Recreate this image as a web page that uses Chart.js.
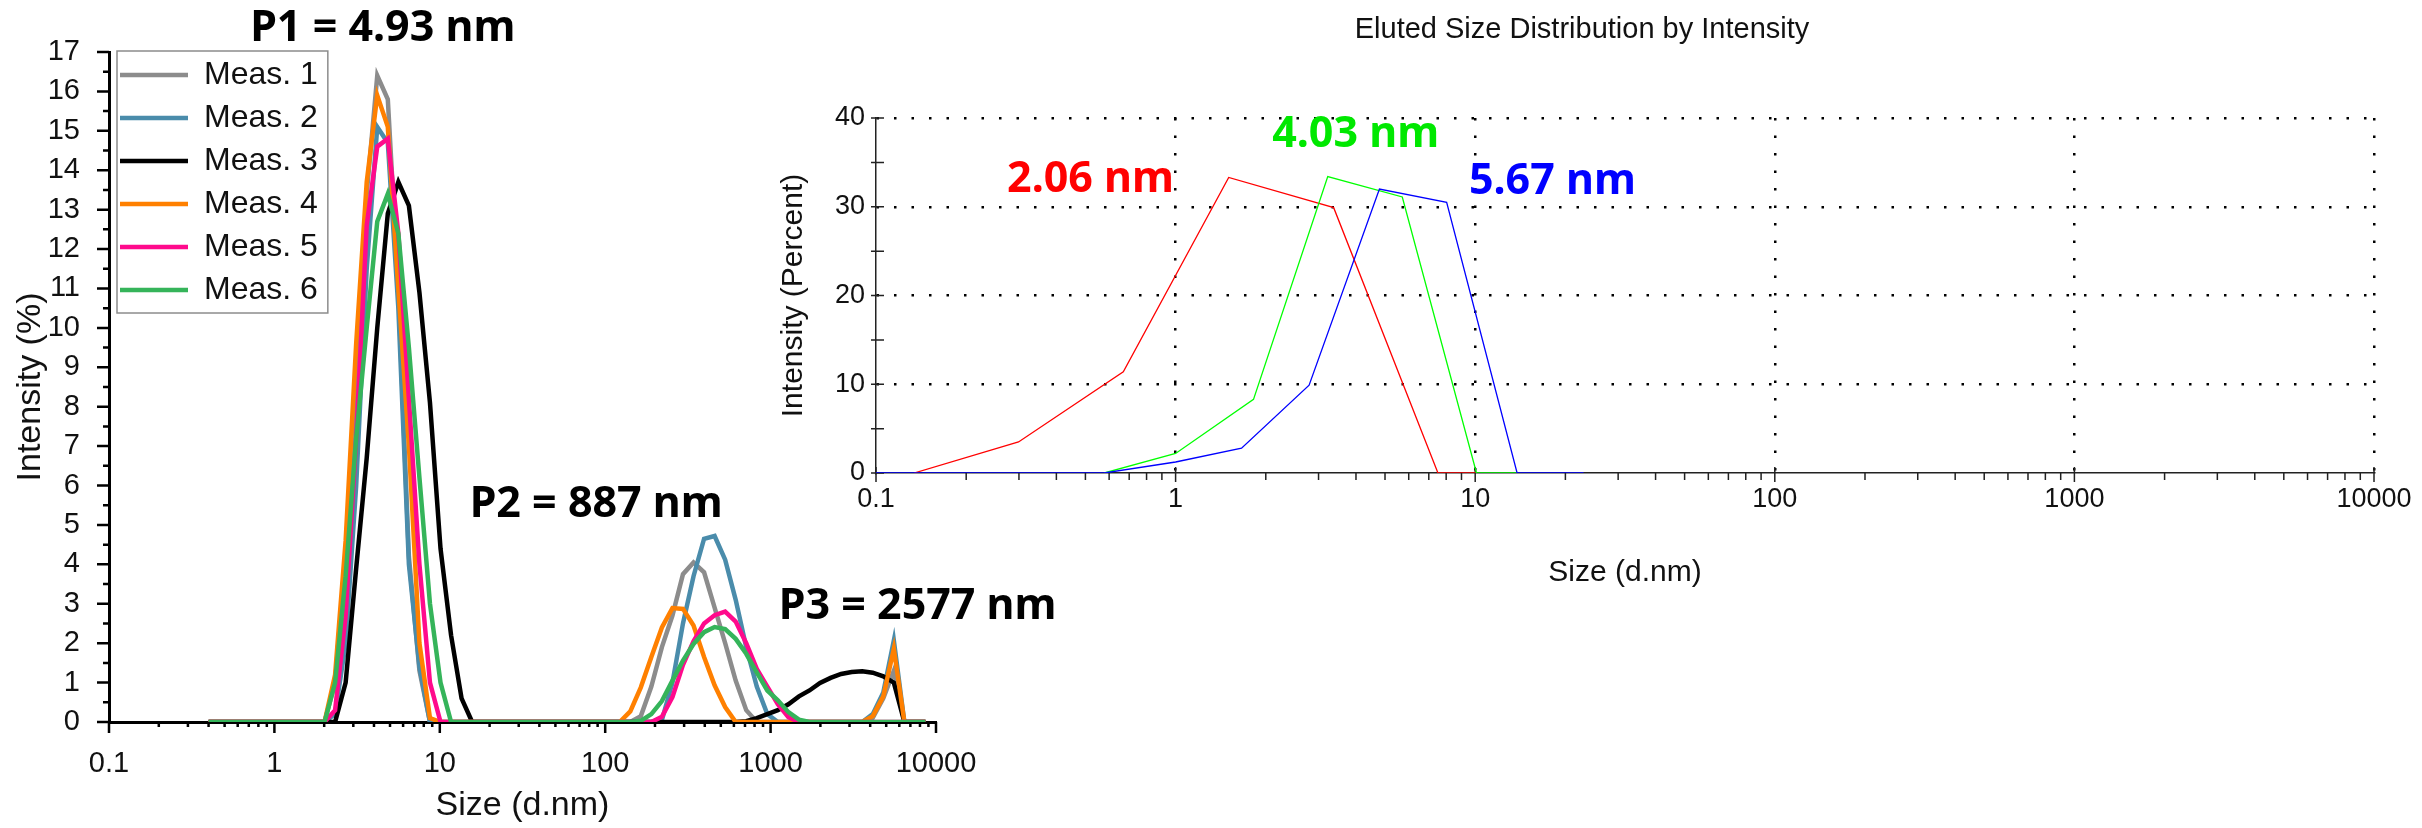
<!DOCTYPE html>
<html>
<head>
<meta charset="utf-8">
<script src="https://cdn.jsdelivr.net/npm/chart.js@4.4.1/dist/chart.umd.min.js"></script>
<style>
  html, body { margin: 0; padding: 0; background: #fff; width: 2422px; height: 828px; overflow: hidden; }
  #left { position: absolute; left: 0; top: 0; }
  #right { position: absolute; left: 780px; top: 0; }
</style>
</head>
<body>
<canvas id="left" width="1100" height="828"></canvas>
<canvas id="right" width="1642" height="600"></canvas>
<script>
// ---- left chart: size classes (d.nm) and intensity (%) of six measurements
const sizeBins = [0.4, 0.4632, 0.5365, 0.6213, 0.7195, 0.8332, 0.9649, 1.117, 1.294, 1.499, 1.736,
  2.010, 2.328, 2.696, 3.122, 3.615, 4.187, 4.849, 5.615, 6.503, 7.531, 8.721, 10.10, 11.70, 13.54, 15.69,
  18.17, 21.04, 24.36, 28.21, 32.67, 37.84, 43.82, 50.75, 58.77, 68.06, 78.82, 91.28, 105.7,
  122.4, 141.8, 164.2, 190.1, 220.2, 255.0, 295.3, 342.0, 396.1, 458.7, 531.2, 615.1, 712.4, 825.0, 955.4, 1106, 1281, 1484, 1718,
  1990, 2305, 2669, 3091, 3580, 4145, 4801, 5560, 6439, 7456, 8635];

const meas1 = [0,0,0,0,0,0,0,0,0,0,0,
  0,1.0,4.3,8.8,13.4,16.4,15.8,11.0,4.2,1.3,0,0,0,0,0,
  0,0,0,0,0,0,0,0,0,0,0,0,0,
  0,0,0.15,0.9,1.9,2.7,3.75,4.05,3.8,2.9,2.0,1.05,0.3,0,0,0,0,0,0,
  0,0,0,0,0,0.1,0.6,1.3,0,0,0];
const meas2 = [0,0,0,0,0,0,0,0,0,0,0,
  0,0.2,2.0,6.0,11.5,15.1,14.7,10.5,4.0,1.4,0,0,0,0,0,
  0,0,0,0,0,0,0,0,0,0,0,0,0,
  0,0,0,0,0.05,1.0,2.5,3.7,4.65,4.72,4.12,3.1,1.9,0.9,0.2,0,0,0,0,
  0,0,0,0,0,0.2,0.75,2.07,0,0,0];
const meas3 = [0,0,0,0,0,0,0,0,0,0,0,
  0,0,1.0,3.9,6.7,10.0,12.9,13.7,13.1,10.9,8.1,4.4,2.2,0.6,0,
  0,0,0,0,0,0,0,0,0,0,0,0,0,
  0,0,0,0,0,0,0,0,0,0,0,0,0.02,0.1,0.2,0.3,0.45,0.65,0.8,
  0.99,1.12,1.22,1.27,1.29,1.25,1.16,1.0,0,0,0];
const meas4 = [0,0,0,0,0,0,0,0,0,0,0,
  0,1.2,4.6,9.6,13.7,15.9,15.1,11.0,7.0,2.0,0.1,0,0,0,0,
  0,0,0,0,0,0,0,0,0,0,0,0,0,
  0,0.27,0.88,1.65,2.4,2.89,2.87,2.45,1.65,0.93,0.38,0,0,0,0,0,0,0,0,
  0,0,0,0,0,0.15,0.65,1.86,0,0,0];
const meas5 = [0,0,0,0,0,0,0,0,0,0,0,
  0,0.3,2.7,7.2,12.6,14.6,14.8,12.4,8.2,4.0,1.0,0,0,0,0,
  0,0,0,0,0,0,0,0,0,0,0,0,0,
  0,0,0,0,0.13,0.63,1.45,2.05,2.5,2.71,2.8,2.55,2.0,1.35,0.9,0.45,0.12,0,0,
  0,0,0,0,0,0,0,0,0,0,0];
const meas6 = [0,0,0,0,0,0,0,0,0,0,0,
  0,1.0,3.7,7.2,10.0,12.7,13.4,12.4,9.5,6.2,3.0,1.0,0,0,0,
  0,0,0,0,0,0,0,0,0,0,0,0,0,
  0,0,0.03,0.2,0.53,1.05,1.56,1.98,2.28,2.41,2.36,2.11,1.73,1.26,0.8,0.55,0.25,0.06,0,
  0,0,0,0,0,0,0,0,0,0,0];

const measNames = ['Meas. 1', 'Meas. 2', 'Meas. 3', 'Meas. 4', 'Meas. 5', 'Meas. 6'];
const measValues = [meas1, meas2, meas3, meas4, meas5, meas6];
const measColors = ['#8c8c8c', '#4a8cab', '#000000', '#ff8000', '#ff0a8c', '#35b45a'];

const peakTexts = ['P1 = 4.93 nm', 'P2 = 887 nm', 'P3 = 2577 nm'];
const peakAt = [[4.52, 17.27], [88.2, 5.2], [7745, 2.62]]; // [size, intensity] of text baseline centre

// ---- right chart: eluted size distribution by intensity
const redSize = [0.134, 0.299, 0.669, 1.504, 3.37, 7.51, 10.05];
const redIntensity = [0, 3.5, 11.4, 33.3, 29.9, 0, 0];
const greenSize = [0.578, 1.0, 1.82, 3.22, 5.71, 10.1, 13.8];
const greenIntensity = [0, 2.2, 8.3, 33.4, 31.1, 0, 0];
const blueSize = [0.1, 0.578, 1.0, 1.66, 2.79, 4.79, 8.03, 13.8, 23.0];
const blueIntensity = [0, 0, 1.24, 2.8, 9.9, 32.0, 30.5, 0, 0];

const elutedTexts = ['2.06 nm', '4.03 nm', '5.67 nm'];
const elutedAt = [[0.52, 31.66], [3.99, 36.73], [18.1, 31.48]];
const elutedColors = ['#ff0000', '#00e800', '#0000ff'];

// shared axis ticks
const sizeTicks = [0.1, 1, 10, 100, 1000, 10000];
const sizeTickLabels = ['0.1', '1', '10', '100', '1000', '10000'];
const sizeMinor = [];
for (let e = -1; e < 4; e++) {
  for (let m = 2; m <= 9; m++) sizeMinor.push(m * Math.pow(10, e));
}
const leftYMajor = [], leftYMinor = [];
for (let v = 0; v <= 17; v++) { leftYMajor.push(v); if (v < 17) leftYMinor.push(v + 0.5); }
const rightYTicks = [0, 5, 10, 15, 20, 25, 30, 35, 40];

Chart.defaults.font.family = '"Liberation Sans", Arial, sans-serif';
Chart.defaults.color = '#111';

function tickPlugin(spec) {
  return {
    id: 'axisTicks',
    beforeDatasetsDraw(chart) {
      const {ctx, scales: {x, y}} = chart;
      ctx.save();
      ctx.strokeStyle = spec.color;
      ctx.lineWidth = spec.width;
      ctx.beginPath();
      spec.x.forEach(m => m.values.forEach(v => {
        const px = x.getPixelForValue(v);
        ctx.moveTo(px, y.bottom - m.inside);
        ctx.lineTo(px, y.bottom + m.outside);
      }));
      spec.y.forEach(m => m.values.forEach(v => {
        const py = y.getPixelForValue(v);
        ctx.moveTo(x.left - m.outside, py);
        ctx.lineTo(x.left + m.inside, py);
      }));
      ctx.stroke();
      ctx.restore();
    }
  };
}

function textPlugin(texts, at, colors, font) {
  return {
    id: 'peakText',
    afterDatasetsDraw(chart) {
      const {ctx, scales: {x, y}} = chart;
      ctx.save();
      ctx.font = font;
      ctx.textAlign = 'center';
      ctx.textBaseline = 'alphabetic';
      texts.forEach((t, i) => {
        ctx.fillStyle = colors[i];
        ctx.fillText(t, x.getPixelForValue(at[i][0]), y.getPixelForValue(at[i][1]));
      });
      ctx.restore();
    }
  };
}

// a chartArea legend gets top = 0 from Chart.js; move it to the plot top and frame it
const legendBox = {
  id: 'legendBox',
  afterLayout(chart) {
    const lg = chart.legend;
    const h = lg.bottom - lg.top;
    lg.top = chart.chartArea.top - 4;
    lg.bottom = lg.top + h;
  },
  afterDraw(chart) {
    const hb = chart.legend.legendHitBoxes;
    if (!hb || !hb.length) return;
    const left = Math.min(...hb.map(b => b.left)) - 3;
    const top = Math.min(...hb.map(b => b.top)) - 8;
    const right = Math.max(...hb.map(b => b.left + b.width)) + 10;
    const bottom = Math.max(...hb.map(b => b.top + b.height)) + 7;
    const ctx = chart.ctx;
    ctx.save();
    ctx.strokeStyle = '#8c8c8c';
    ctx.lineWidth = 1.5;
    ctx.strokeRect(left, top, right - left, bottom - top);
    ctx.restore();
  }
};

// ---------- left chart
new Chart(document.getElementById('left'), {
  type: 'line',
  data: {
    datasets: measValues.map((vals, i) => ({
      label: measNames[i],
      data: sizeBins.map((s, k) => ({x: s, y: vals[k]})),
      borderColor: measColors[i],
      backgroundColor: measColors[i],
      borderWidth: 4.5,
      pointRadius: 0,
      pointBorderWidth: 4.5,
      tension: 0,
      order: measValues.length - 1 - i
    }))
  },
  options: {
    responsive: false,
    animation: false,
    events: [],
    layout: {padding: {left: 0, top: 52, right: 164, bottom: 0}},
    scales: {
      x: {
        type: 'logarithmic',
        min: 0.1,
        max: 10000,
        afterBuildTicks: s => { s.ticks = sizeTicks.map(v => ({value: v})); },
        afterFit: s => { s.height = 106; },
        grid: {display: false},
        border: {color: '#000', width: 3},
        ticks: {
          callback: (v, i) => sizeTickLabels[i],
          autoSkip: false, maxRotation: 0, padding: 17,
          color: '#111', font: {size: 29}
        },
        title: {display: true, text: 'Size (d.nm)', color: '#111', font: {size: 34}, padding: {top: 0, bottom: 2}}
      },
      y: {
        min: 0,
        max: 17,
        afterFit: s => { s.width = 109; },
        grid: {display: false},
        border: {color: '#000', width: 3},
        ticks: {stepSize: 1, padding: 21, color: '#111', font: {size: 29}},
        title: {display: true, text: 'Intensity (%)', color: '#111', font: {size: 34}, padding: {top: 10, bottom: 0}}
      }
    },
    plugins: {
      legend: {
        position: 'chartArea',
        align: 'start',
        labels: {
          usePointStyle: true, pointStyle: 'line', pointStyleWidth: 68,
          padding: 11, color: '#111', font: {size: 32},
          sort: (a, b) => a.datasetIndex - b.datasetIndex
        }
      },
      tooltip: {enabled: false}
    }
  },
  plugins: [
    tickPlugin({
      color: '#000', width: 2.5,
      x: [{values: sizeTicks, inside: 0, outside: 11}, {values: sizeMinor, inside: 0, outside: 5}],
      y: [{values: leftYMajor, inside: 0, outside: 12}, {values: leftYMinor, inside: 0, outside: 6}]
    }),
    textPlugin(peakTexts, peakAt, ['#000', '#000', '#000'], 'bold 43px "Noto Sans"'),
    legendBox
  ]
});

// ---------- right chart
const elutedSeries = [
  {label: 'red', size: redSize, val: redIntensity, color: '#ff0000', order: 2},
  {label: 'green', size: greenSize, val: greenIntensity, color: '#00ff00', order: 1},
  {label: 'blue', size: blueSize, val: blueIntensity, color: '#0000ff', order: 0}
];

new Chart(document.getElementById('right'), {
  type: 'line',
  data: {
    datasets: elutedSeries.map(s => ({
      label: s.label,
      data: s.size.map((x, k) => ({x: x, y: s.val[k]})),
      borderColor: s.color,
      borderWidth: 1.3,
      pointRadius: 0,
      tension: 0,
      order: s.order
    }))
  },
  options: {
    responsive: false,
    animation: false,
    events: [],
    layout: {padding: {left: 10, top: 0, right: 48, bottom: 0}},
    scales: {
      x: {
        type: 'logarithmic',
        min: 0.1,
        max: 10000,
        afterBuildTicks: s => { s.ticks = sizeTicks.map(v => ({value: v})); },
        afterFit: s => { s.height = 127; },
        grid: {
          drawTicks: false,
          lineWidth: 2.5,
          color: c => (c.tick && c.tick.value === 0.1) ? 'rgba(0,0,0,0)' : '#000'
        },
        border: {color: '#222', width: 1.5, dash: [2.5, 15]},
        ticks: {
          callback: (v, i) => sizeTickLabels[i],
          autoSkip: false, maxRotation: 0, padding: 10,
          color: '#111', font: {size: 27}
        },
        title: {display: true, text: 'Size (d.nm)', color: '#111', font: {size: 30}, padding: {top: 0, bottom: 9}}
      },
      y: {
        min: 0,
        max: 40,
        afterFit: s => { s.width = 86; },
        grid: {
          drawTicks: false,
          lineWidth: 2.5,
          color: c => (c.tick && c.tick.value === 0) ? 'rgba(0,0,0,0)' : '#000'
        },
        border: {color: '#222', width: 1.5, dash: [2.5, 15]},
        ticks: {stepSize: 10, padding: 11, color: '#111', font: {size: 27}},
        title: {display: true, text: 'Intensity (Percent)', color: '#111', font: {size: 30}, padding: {top: -14, bottom: 0}}
      }
    },
    plugins: {
      legend: {display: false},
      tooltip: {enabled: false},
      title: {
        display: true,
        text: 'Eluted Size Distribution by Intensity',
        color: '#111',
        font: {size: 29, weight: 'normal'},
        padding: {top: 12.6, bottom: 70.6}
      }
    }
  },
  plugins: [
    tickPlugin({
      color: '#222', width: 1.5,
      x: [{values: sizeTicks, inside: 6, outside: 9}, {values: sizeMinor, inside: 0, outside: 7}],
      y: [{values: rightYTicks, inside: 8, outside: 5}]
    }),
    textPlugin(elutedTexts, elutedAt, elutedColors, 'bold 43px "Noto Sans"')
  ]
});
</script>
</body>
</html>
